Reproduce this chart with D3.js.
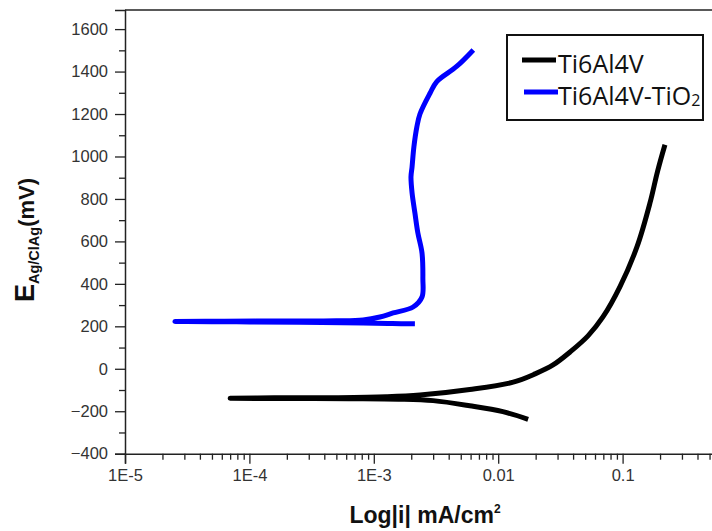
<!DOCTYPE html>
<html>
<head>
<meta charset="utf-8">
<script src="https://cdn.jsdelivr.net/npm/d3@7"></script>
<style>
  html, body { margin: 0; padding: 0; background: #fff; }
  svg { display: block; }
</style>
</head>
<body>
<svg id="chart" width="712" height="531"></svg>
<script>
// Potentiodynamic polarization curves: current density (mA/cm²) vs potential (mV vs Ag/AgCl)

// Ti6Al4V: cathodic branch, turn at low current, then anodic branch
const ti6al4vCurrent = [0.0174, 0.0109, 0.0059, 0.0030, 0.00158, 0.00063, 0.00020, 0.00007,
  0.000158, 0.00050, 0.00126, 0.00235, 0.0059, 0.0132, 0.0198, 0.0276, 0.0378, 0.0527,
  0.0695, 0.0953, 0.1306, 0.166, 0.191, 0.219];
const ti6al4vPotential = [-238, -202, -174, -150, -143, -141, -140, -139,
  -137, -136, -132, -124, -98, -63, -24, 18, 79, 155,
  244, 387, 575, 781, 930, 1055];

// Ti6Al4V-TiO2: cathodic branch, turn at low current, then passive anodic branch
const coatedCurrent = [0.00214, 0.00141, 0.00082, 0.00025, 0.000079, 0.0000252,
  0.000063, 0.00020, 0.00050, 0.00082, 0.00112, 0.00143, 0.00207, 0.00244, 0.00248,
  0.00244, 0.00226, 0.00214, 0.00203, 0.00199, 0.00203, 0.00210, 0.00222, 0.00235,
  0.00283, 0.00321, 0.00463, 0.00631];
const coatedPotential = [212, 213, 216, 219, 221, 223,
  224, 225, 226, 230, 244, 263, 291, 338, 425,
  546, 640, 734, 829, 904, 951, 1045, 1140, 1200,
  1298, 1353, 1424, 1502];

const seriesNames = ["Ti6Al4V", "Ti6Al4V-TiO"];
const seriesColors = ["#000000", "#0000ff"];

const xTickValues = [1e-5, 1e-4, 1e-3, 1e-2, 1e-1];
const xTickLabels = ["1E-5", "1E-4", "1E-3", "0.01", "0.1"];
const yTickValues = [-400, -200, 0, 200, 400, 600, 800, 1000, 1200, 1400, 1600];

const svg = d3.select("#chart");
const plotLeft = 125, plotBottom = 453.7, plotTop = 10, plotRight = 747;

const x = d3.scaleLog().domain([1e-5, 1]).range([plotLeft, plotRight]);
const y = d3.scaleLinear().domain([-400, 1690]).range([plotBottom, plotTop]);

const axisColor = "#222";
const labelColor = "#333";

// minor ticks
const xMinor = [];
for (let e = -5; e < 0; e++) for (let m = 2; m <= 9; m++) xMinor.push(m * Math.pow(10, e));
const yMinor = d3.range(-300, 1700, 200);

const gx = svg.append("g").attr("transform", `translate(0,${plotBottom})`);
gx.call(d3.axisBottom(x).tickValues(xMinor).tickSize(6).tickFormat(""))
  .call(g => g.select(".domain").remove());
gx.append("g").call(d3.axisBottom(x).tickValues(xTickValues).tickSize(10).tickPadding(6)
  .tickFormat((d, i) => xTickLabels[i]));

const gy = svg.append("g").attr("transform", `translate(${plotLeft},0)`);
gy.call(d3.axisLeft(y).tickValues(yMinor).tickSize(6).tickFormat(""))
  .call(g => g.select(".domain").remove());
gy.append("g").call(d3.axisLeft(y).tickValues(yTickValues).tickSize(10).tickPadding(7)
  .tickFormat(d3.format("d")));

svg.selectAll(".tick line").attr("stroke", axisColor).attr("stroke-width", 1.3);
svg.selectAll(".domain").attr("stroke", axisColor).attr("stroke-width", 1.5);
svg.selectAll(".tick text")
  .attr("fill", labelColor)
  .style("font-family", "'Liberation Sans', Arial, sans-serif")
  .style("font-size", "16.5px");

// top spine
svg.append("line")
  .attr("x1", plotLeft).attr("x2", plotRight).attr("y1", plotTop).attr("y2", plotTop)
  .attr("stroke", axisColor).attr("stroke-width", 1.5);

// curves
const line = d3.line()
  .x(d => x(d[0]))
  .y(d => y(d[1]))
  .curve(d3.curveCatmullRom.alpha(0.5));

const series = [
  d3.zip(ti6al4vCurrent, ti6al4vPotential),
  d3.zip(coatedCurrent, coatedPotential)
];

svg.append("g").selectAll("path")
  .data(series)
  .join("path")
  .attr("d", line)
  .attr("fill", "none")
  .attr("stroke", (d, i) => seriesColors[i])
  .attr("stroke-width", 5)
  .attr("stroke-linejoin", "round")
  .attr("stroke-linecap", "butt");

// axis titles
svg.append("text")
  .attr("x", 425).attr("y", 523)
  .attr("text-anchor", "middle")
  .style("font-family", "'Liberation Sans', Arial, sans-serif")
  .style("font-weight", "bold")
  .style("font-size", "23px")
  .attr("fill", "#111")
  .call(t => {
    t.append("tspan").text("Log|i| mA/cm");
    t.append("tspan").attr("dy", -10).style("font-size", "12px").text("2");
  });

svg.append("text")
  .attr("transform", "translate(34,240) rotate(-90)")
  .attr("text-anchor", "middle")
  .style("font-family", "'Liberation Sans', Arial, sans-serif")
  .style("font-weight", "bold")
  .attr("fill", "#111")
  .call(t => {
    t.append("tspan").style("font-size", "27px").text("E");
    t.append("tspan").attr("dy", 5).style("font-size", "14.5px").text("Ag/ClAg");
    t.append("tspan").attr("dy", -5).style("font-size", "22px").text("(mV)");
  });

// legend
const legend = svg.append("g");
legend.append("rect")
  .attr("x", 507).attr("y", 35).attr("width", 196).attr("height", 85)
  .attr("fill", "#fff").attr("stroke", "#111").attr("stroke-width", 2);

const legendRows = legend.selectAll("g.row")
  .data(seriesNames)
  .join("g")
  .attr("class", "row")
  .attr("transform", (d, i) => `translate(0,${60 + i * 32})`);

legendRows.append("line")
  .attr("x1", (d, i) => 522 + i * 2).attr("x2", (d, i) => 556 + i * 2)
  .attr("stroke", (d, i) => seriesColors[i])
  .attr("stroke-width", 5);

legendRows.append("text")
  .attr("x", 558).attr("y", 13)
  .style("font-family", "'Open Sans', sans-serif")
  .style("font-size", "25px")
  .attr("fill", "#111")
  .each(function (d, i) {
    const t = d3.select(this);
    t.append("tspan").text(d);
    if (i === 1) t.append("tspan").attr("dy", 1).style("font-size", "16px").text("2");
  });
</script>
</body>
</html>
